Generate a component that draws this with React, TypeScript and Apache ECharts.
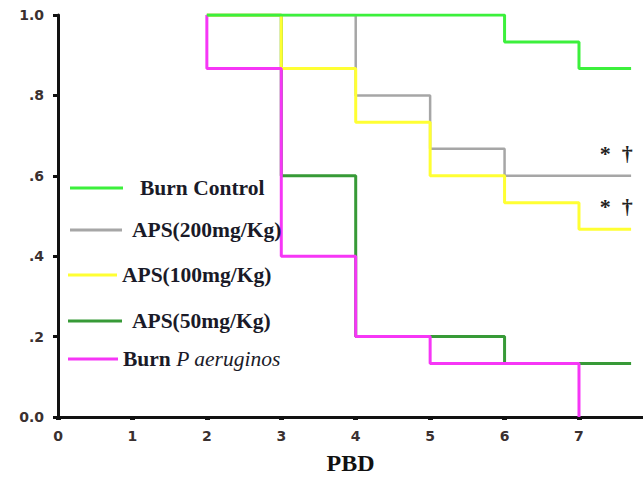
import { useEffect, useRef } from "react";
import * as echarts from "echarts";

// ---- data ----
const seriesNames = ["Burn Control", "APS(200mg/Kg)", "APS(100mg/Kg)", "APS(50mg/Kg)", "Burn P aeruginos"];
const burnControlTimes = [2, 6, 7];
const burnControlSurv = [1.0, 0.933, 0.867];
const aps200Times = [2, 4, 5, 6];
const aps200Surv = [1.0, 0.8, 0.667, 0.6];
const aps100Times = [2, 3, 4, 5, 6, 7];
const aps100Surv = [1.0, 0.867, 0.733, 0.6, 0.533, 0.467];
const aps50Times = [2, 3, 4, 6];
const aps50Surv = [1.0, 0.6, 0.2, 0.133];
const burnPaTimes = [2, 2, 3, 4, 5, 7];
const burnPaSurv = [1.0, 0.867, 0.4, 0.2, 0.133, 0.0];
const followUpEnd = 7.7;
const burnPaEnd = 7;
const xTicks = [0, 1, 2, 3, 4, 5, 6, 7];
const yTickLabels = ["0.0", ".2", ".4", ".6", ".8", "1.0"];
const significanceLabel = "*\u00a0\u00a0\u2020";
const aps200MarkCoord = [7.5, 0.655];
const aps100MarkCoord = [7.5, 0.524];

function stepPoints(times: number[], surv: number[], end: number) {
  const pts: number[][] = [[times[0], surv[0]]];
  for (let i = 1; i < times.length; i++) {
    pts.push([times[i], surv[i - 1]]);
    pts.push([times[i], surv[i]]);
  }
  if (end > times[times.length - 1]) pts.push([end, surv[surv.length - 1]]);
  return pts;
}

const SERIF = "Liberation Serif";
const SANS = "DejaVu Sans";

export default function App() {
  const ref = useRef<HTMLDivElement>(null);
  useEffect(() => {
    if (!ref.current) return;
    const chart = echarts.init(ref.current, undefined, { renderer: "svg" });
    const colors: Record<string, string> = {
      "Burn Control": "#3cf03c",
      "APS(200mg/Kg)": "#a6a6a6",
      "APS(100mg/Kg)": "#ffff33",
      "APS(50mg/Kg)": "#379a37",
      "Burn P aeruginos": "#f636f6",
    };
    const markLabel = {
      show: true,
      formatter: significanceLabel,
      color: "#222",
      fontSize: 22,
      fontFamily: SERIF,
      fontWeight: "bold" as const,
    };
    const mk = (name: string, data: number[][], width: number, extra: any = {}) => ({
      name,
      type: "line",
      data,
      showSymbol: false,
      symbol: "none",
      color: colors[name],
      itemStyle: { color: colors[name] },
      lineStyle: { color: colors[name], width },
      ...extra,
    });
    const legendLayout = [
      { name: seriesNames[0], left: 70, top: 177, itemWidth: 53, pad: 12 },
      { name: seriesNames[1], left: 70, top: 219, itemWidth: 52, pad: 5 },
      { name: seriesNames[2], left: 68, top: 264, itemWidth: 49, pad: 0 },
      { name: seriesNames[3], left: 68, top: 310, itemWidth: 54, pad: 5 },
      { name: seriesNames[4], left: 68, top: 348, itemWidth: 50, pad: 0 },
    ];
    const legendText = { fontFamily: SERIF, fontWeight: "bold", fontSize: 21.5, color: "#1a1a28" };
    chart.setOption({
      animation: false,
      backgroundColor: "#ffffff",
      grid: { left: 58, right: 0, top: 15, bottom: 61, containLabel: false },
      xAxis: {
        type: "value",
        min: 0,
        max: 7.86,
        interval: 1,
        name: "PBD",
        nameLocation: "middle",
        nameGap: 34,
        nameTextStyle: { fontFamily: SERIF, fontWeight: "bold", fontSize: 24, color: "#111" },
        axisLine: { show: true, onZero: false, lineStyle: { color: "#111", width: 3 } },
        axisTick: { show: true, customValues: xTicks, length: 3, lineStyle: { color: "#111", width: 5 } },
        axisLabel: {
          customValues: xTicks,
          margin: 12,
          fontFamily: SANS,
          fontWeight: "bold",
          fontSize: 14,
          color: "#3a3030",
        },
        splitLine: { show: false },
      },
      yAxis: {
        type: "value",
        min: 0,
        max: 1,
        interval: 0.2,
        axisLine: { show: true, lineStyle: { color: "#111", width: 3 } },
        axisTick: { show: true, length: 5, lineStyle: { color: "#111", width: 3 } },
        axisLabel: {
          margin: 14,
          fontFamily: SANS,
          fontWeight: "bold",
          fontSize: 14,
          color: "#3a3030",
          formatter: (v: number) => yTickLabels[Math.round(v / 0.2)] ?? "",
        },
        splitLine: { show: false },
      },
      legend: legendLayout.map((l) => ({
        data: [l.name],
        left: l.left,
        top: l.top,
        orient: "horizontal",
        padding: 0,
        icon: "rect",
        itemWidth: l.itemWidth,
        itemHeight: 3,
        selectedMode: false,
        formatter: (name: string) =>
          name === "Burn P aeruginos" ? "{n|Burn }{i|P aeruginos}" : "{n|" + name + "}",
        textStyle: {
          ...legendText,
          padding: [0, 0, 0, l.pad],
          rich: {
            n: { ...legendText },
            i: { ...legendText, fontStyle: "italic", fontWeight: "normal" },
          },
        },
      })),
      series: [
        mk(seriesNames[3], stepPoints(aps50Times, aps50Surv, followUpEnd), 3),
        mk(seriesNames[1], stepPoints(aps200Times, aps200Surv, followUpEnd), 2.5, {
          markPoint: {
            symbol: "rect",
            symbolSize: 1,
            itemStyle: { color: "transparent" },
            label: markLabel,
            data: [{ coord: aps200MarkCoord }],
          },
        }),
        mk(seriesNames[2], stepPoints(aps100Times, aps100Surv, followUpEnd), 3, {
          markPoint: {
            symbol: "rect",
            symbolSize: 1,
            itemStyle: { color: "transparent" },
            label: markLabel,
            data: [{ coord: aps100MarkCoord }],
          },
        }),
        mk(seriesNames[4], stepPoints(burnPaTimes, burnPaSurv, burnPaEnd), 3),
        mk(seriesNames[0], stepPoints(burnControlTimes, burnControlSurv, followUpEnd), 3),
      ],
    });
    return () => chart.dispose();
  }, []);
  return (
    <div
      ref={ref}
      style={{ position: "absolute", left: 0, top: 0, width: 643, height: 480, background: "#fff" }}
    />
  );
}
